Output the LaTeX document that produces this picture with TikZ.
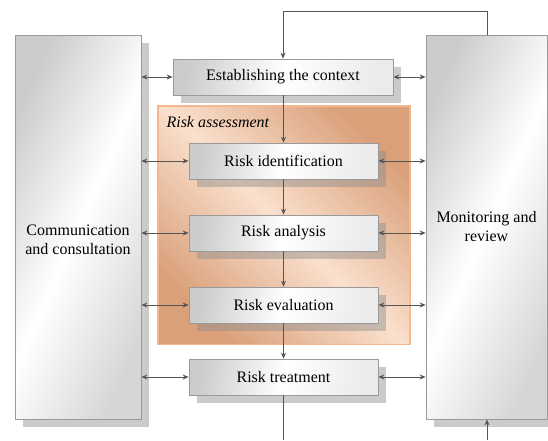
\documentclass[tikz,border=0pt]{standalone}
\usepackage{fontspec}
\setmainfont{Liberation Serif}
\newfontfamily\boxfont{Liberation Serif}
\usetikzlibrary{arrows.meta,shadows}
\definecolor{linegray}{HTML}{555555}
\definecolor{edgegray}{HTML}{9A9A9C}
\definecolor{peachdark}{HTML}{DAA07A}
\definecolor{peachlight}{HTML}{FAE0CD}
\definecolor{peachedge}{HTML}{F4B890}

\begin{document}
\begin{tikzpicture}[x=1pt,y=-1pt,
  font=\boxfont\fontsize{16}{19}\selectfont,
  boxshadow/.style={drop shadow={shadow xshift=8pt,shadow yshift=-8pt,fill=black!45,opacity=.45}},
  stepbox/.style={draw=edgegray,line width=.7pt,boxshadow,minimum height=36pt,
    left color=black!20,right color=black!8,middle color=white,shading angle=80},
  sidebox/.style={draw=edgegray,line width=.7pt,boxshadow,minimum height=384pt,
    align=center,top color=black!20,bottom color=black!16,middle color=white,shading angle=66},
  biarrow/.style={{Stealth[length=6pt,width=5pt]}-{Stealth[length=6pt,width=5pt]},linegray,line width=.9pt},
  flow/.style={-{Stealth[length=6pt,width=5pt]},linegray,line width=.9pt}]
  \useasboundingbox (0,0) rectangle (548,440);

  \node[sidebox,minimum width=126pt] (comm) at (78,227) {\\[18pt]Communication\\and consultation};
  \node[sidebox,minimum width=121pt] (mon) at (486.5,227) {Monitoring and\\review};

  \node[stepbox,minimum width=220pt] (ctx) at (283,77) {Establishing the context};

  \fill[peachedge] (157,105) rectangle (411,345);
  \shade[top color=peachdark,bottom color=peachdark,middle color=peachlight,shading angle=-45]
    (159,107) rectangle (409,343);
  \node[anchor=north west,font=\boxfont\fontsize{16}{19}\selectfont\itshape] (assesslabel) at (163,113) {Risk assessment};

  \node[stepbox,minimum width=189pt] (ident) at (283.5,161) {Risk identification};
  \node[stepbox,minimum width=189pt] (anal) at (283.5,233) {Risk analysis};
  \node[stepbox,minimum width=189pt] (eval) at (283.5,305) {Risk evaluation};
  \node[stepbox,minimum width=189pt] (treat) at (283.5,377) {Risk treatment};

  \foreach \n in {ctx,ident,anal,eval,treat} {
    \draw[biarrow] (\n.west -| comm.east) -- (\n.west);
    \draw[biarrow] (\n.east) -- (\n.east -| mon.west);
  }

  \draw[flow] (ident.north |- ctx.south) -- (ident.north);
  \draw[flow] (ident.south) -- (anal.north);
  \draw[flow] (anal.south) -- (eval.north);
  \draw[flow] (eval.south) -- (treat.north);

  \coordinate (out) at (283.5,440);
  \coordinate (in) at (487,440);
  \coordinate (top) at (487,11);
  \draw[linegray,line width=.9pt] (treat.south) -- (out);
  \draw[flow] (in) -- (in |- mon.south);
  \draw[flow] (top |- mon.north) -- (top) -| (ctx.north);
\end{tikzpicture}
\end{document}
